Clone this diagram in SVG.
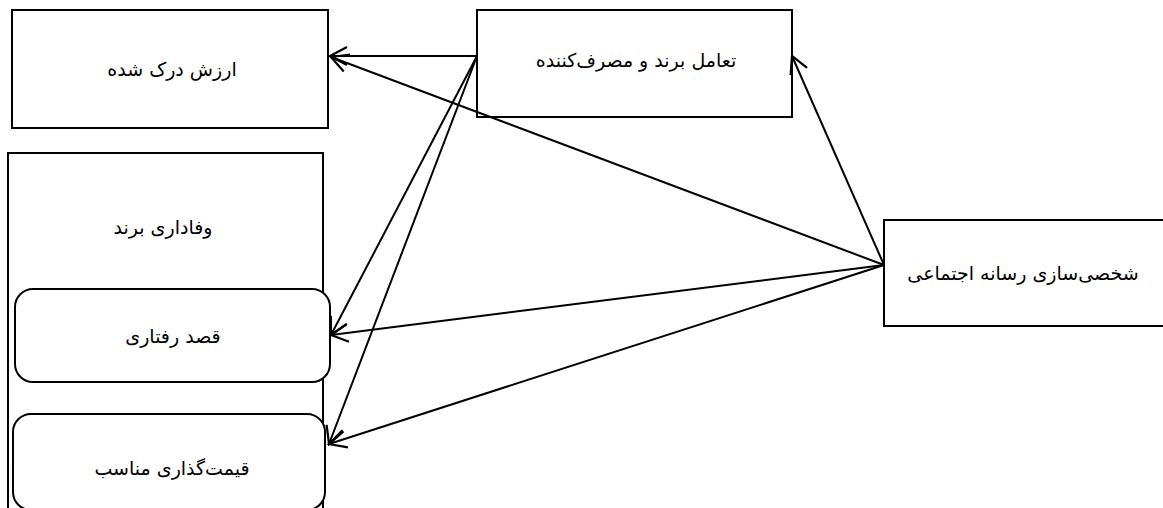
<svg xmlns="http://www.w3.org/2000/svg" width="1163" height="508" viewBox="0 0 1163 508">
  <style>
    .box { fill: #ffffff; stroke: #000000; stroke-width: 2; }
    .lbl { font-family: "DejaVu Sans", "Noto Sans", sans-serif; font-size: 19px; fill: #000000; text-anchor: middle; dominant-baseline: middle; direction: rtl; }
    .edge { stroke: #000000; stroke-width: 2; fill: none; marker-end: url(#open); }
  </style>
  <defs>
    <marker id="open" markerUnits="userSpaceOnUse" markerWidth="24" markerHeight="24" viewBox="0 0 24 24" refX="20" refY="12" orient="auto">
      <path d="M3,3 L20,12 L3,21" fill="none" stroke="#000000" stroke-width="2.2"/>
    </marker>
  </defs>
  <rect width="1163" height="508" fill="#ffffff"/>

  <g id="perceived-value">
    <rect class="box" x="12" y="10" width="316" height="118"/>
    <text class="lbl" x="172" y="70">ارزش درک شده</text>
  </g>

  <g id="brand-consumer-engagement">
    <rect class="box" x="477" y="10" width="315" height="107"/>
    <text class="lbl" x="636" y="61">تعامل برند و مصرف‌کننده</text>
  </g>

  <g id="brand-loyalty">
    <rect class="box" x="8" y="153" width="315" height="370"/>
    <text class="lbl" x="163" y="228">وفاداری برند</text>
  </g>

  <g id="behavioral-intention">
    <rect class="box" x="15" y="289" width="315" height="93" rx="18" ry="18"/>
    <text class="lbl" x="173" y="337">قصد رفتاری</text>
  </g>

  <g id="fair-pricing">
    <rect class="box" x="13" y="414" width="312" height="96" rx="18" ry="18"/>
    <text class="lbl" x="172" y="469">قیمت‌گذاری مناسب</text>
  </g>

  <g id="social-media-personalization">
    <rect class="box" x="884" y="220" width="282" height="106"/>
    <text class="lbl" x="1023" y="274">شخصی‌سازی رسانه اجتماعی</text>
  </g>

  <g id="connectors">
    <line class="edge" x1="477" y1="56" x2="330" y2="56"/>
    <line class="edge" x1="477" y1="56" x2="331" y2="335"/>
    <line class="edge" x1="477" y1="56" x2="329" y2="444"/>
    <line class="edge" x1="884" y1="265" x2="331" y2="57"/>
    <line class="edge" x1="884" y1="265" x2="331" y2="335"/>
    <line class="edge" x1="884" y1="265" x2="329" y2="444"/>
    <line class="edge" x1="884" y1="265" x2="792" y2="56"/>
  </g>
</svg>
